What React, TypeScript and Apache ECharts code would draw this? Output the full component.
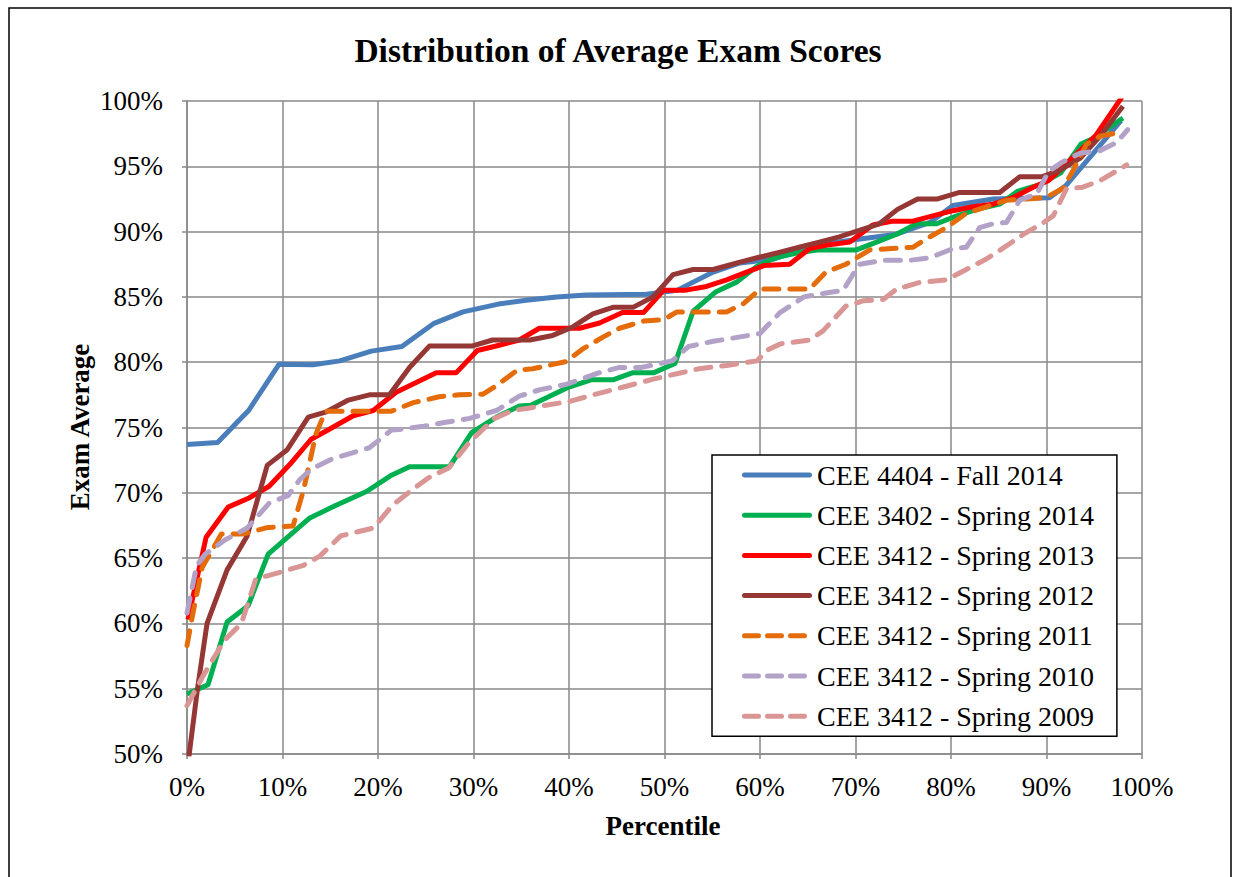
import React, { useEffect, useRef } from "react";
import * as echarts from "echarts";

const TITLE = "Distribution of Average Exam Scores";
const X_NAME = "Percentile";
const Y_NAME = "Exam Average";

const SERIES_NAMES = [
  "CEE 4404 - Fall 2014",
  "CEE 3402 - Spring 2014",
  "CEE 3412 - Spring 2013",
  "CEE 3412 - Spring 2012",
  "CEE 3412 - Spring 2011",
  "CEE 3412 - Spring 2010",
  "CEE 3412 - Spring 2009",
];

// [percentile %, exam average %]
const fall2014 = [
  [0, 73.7], [3.2, 73.85], [6.45, 76.3], [9.65, 79.85], [13.2, 79.8], [16.0, 80.1],
  [19.3, 80.85], [22.5, 81.2], [25.8, 82.95], [28.9, 83.85], [32.6, 84.45], [35.5, 84.75],
  [38.7, 85.0], [41.8, 85.15], [48.1, 85.2], [51.3, 85.5], [55.1, 86.9], [57.9, 87.6],
  [61.5, 87.9], [65.2, 88.9], [70.1, 89.4], [74.3, 89.8], [77.8, 90.7], [80.2, 92.0],
  [84.4, 92.5], [90.3, 92.6], [92.0, 93.5], [97.8, 98.5],
];

const spring2014 = [
  [0, 54.6], [2.2, 55.3], [4.2, 60.1], [6.4, 61.35], [8.5, 65.3], [12.8, 68.05],
  [15.5, 69.0], [18.8, 70.1], [21.3, 71.3], [23.3, 72.0], [27.5, 72.0], [29.8, 74.6],
  [32.4, 75.8], [34.8, 76.65], [36.0, 76.7], [40.0, 78.1], [42.3, 78.65], [44.6, 78.65],
  [46.7, 79.2], [48.9, 79.2], [51.1, 79.9], [53.0, 83.9], [55.4, 85.4], [57.6, 86.15],
  [59.6, 87.3], [61.6, 88.0], [64.1, 88.4], [66.2, 88.6], [70.1, 88.6], [72.2, 89.2],
  [74.3, 89.8], [76.4, 90.6], [78.5, 90.6], [80.6, 91.2], [82.7, 91.7], [85.1, 92.1],
  [87.0, 93.1], [89.3, 93.6], [91.5, 94.5], [93.6, 96.7], [95.1, 97.2], [98.0, 98.7],
];

const spring2013 = [
  [0.1, 60.3], [2.0, 66.6], [4.3, 68.9], [6.5, 69.6], [8.6, 70.5], [10.8, 72.2],
  [13.0, 74.1], [15.0, 74.9], [17.4, 75.9], [19.5, 76.3], [21.9, 77.7], [26.1, 79.2],
  [28.2, 79.2], [30.4, 80.9], [32.7, 81.3], [34.8, 81.7], [36.9, 82.6], [41.1, 82.6],
  [43.2, 83.0], [45.6, 83.8], [47.8, 83.8], [49.9, 85.5], [52.1, 85.5], [54.4, 85.8],
  [56.5, 86.3], [58.6, 86.9], [60.4, 87.4], [63.1, 87.5], [65.2, 88.7], [67.3, 89.0],
  [69.4, 89.2], [71.8, 90.5], [73.9, 90.8], [76.0, 90.8], [78.1, 91.2], [80.2, 91.6],
  [82.3, 91.9], [84.4, 92.1], [86.5, 92.6], [88.6, 93.4], [90.2, 93.9], [92.1, 95.2],
  [95.2, 97.4], [97.9, 100.3],
];

const spring2012 = [
  [0.2, 49.8], [1.1, 55.0], [2.1, 60.0], [4.2, 64.1], [6.3, 66.7], [8.4, 72.1],
  [10.5, 73.3], [12.7, 75.8], [14.6, 76.2], [16.9, 77.1], [19.1, 77.5], [21.2, 77.5],
  [23.3, 79.6], [25.4, 81.25], [27.8, 81.25], [29.9, 81.25], [32.0, 81.7], [35.9, 81.7],
  [38.3, 82.05], [40.4, 82.7], [42.5, 83.7], [44.6, 84.2], [46.7, 84.2], [48.8, 85.0],
  [50.9, 86.7], [53.0, 87.1], [55.1, 87.1], [57.6, 87.6], [59.7, 88.0], [62.0, 88.4],
  [64.1, 88.8], [66.2, 89.2], [68.3, 89.6], [70.4, 90.1], [72.5, 90.6], [74.4, 91.7],
  [76.5, 92.5], [78.6, 92.5], [80.9, 93.0], [85.1, 93.0], [87.2, 94.2], [89.5, 94.2],
  [91.4, 94.7], [93.5, 95.6], [95.6, 97.3], [98.0, 99.6],
];

const spring2011 = [
  [0, 58.3], [0.6, 60.7], [1.6, 64.3], [3.6, 66.85], [5.9, 66.85], [8.5, 67.35],
  [11.1, 67.45], [12.2, 70.2], [13.5, 74.5], [14.5, 76.25], [21.4, 76.25], [23.7, 76.9],
  [26.4, 77.35], [28.5, 77.5], [31.0, 77.55], [32.2, 78.1], [34.6, 79.4], [36.2, 79.5],
  [39.7, 80.05], [41.4, 81.0], [43.5, 81.9], [45.3, 82.6], [47.8, 83.15], [49.9, 83.25],
  [51.3, 83.85], [56.5, 83.85], [58.3, 84.5], [60.0, 85.6], [65.2, 85.6], [66.9, 86.9],
  [69.0, 87.5], [71.5, 88.6], [76.0, 88.8], [77.8, 89.6], [79.5, 90.3], [81.6, 91.4],
  [83.7, 91.9], [85.8, 92.4], [87.9, 92.5], [89.9, 92.6], [91.7, 93.3], [92.8, 94.7],
  [94.2, 96.7], [95.6, 97.3], [97.0, 97.5], [98.0, 97.5],
];

const spring2010 = [
  [0, 60.8], [1.0, 64.4], [1.9, 65.3], [4.0, 66.4], [6.3, 67.3], [8.6, 69.2],
  [10.6, 69.8], [11.8, 71.0], [13.0, 71.8], [15.2, 72.6], [19.1, 73.45], [21.4, 74.8],
  [22.3, 74.85], [24.8, 75.1], [27.1, 75.4], [29.6, 75.7], [32.4, 76.3], [34.8, 77.4],
  [37.0, 77.9], [39.7, 78.3], [43.2, 79.2], [45.3, 79.6], [47.6, 79.6], [50.8, 80.1],
  [52.5, 81.2], [55.1, 81.6], [57.6, 81.9], [60.0, 82.2], [62.1, 83.8], [64.6, 85.0],
  [66.9, 85.3], [68.7, 85.5], [70.4, 87.5], [72.9, 87.8], [75.7, 87.8], [77.8, 88.0],
  [80.2, 88.7], [81.6, 88.8], [83.0, 90.3], [84.4, 90.6], [85.8, 90.7], [87.2, 92.4],
  [89.0, 92.9], [90.2, 94.6], [91.6, 95.3], [93.5, 96.0], [95.6, 96.2], [97.3, 96.8],
  [98.5, 97.8],
];

const spring2009 = [
  [0, 53.7], [1.7, 56.0], [3.9, 58.7], [5.7, 60.0], [7.2, 63.4], [9.9, 63.95],
  [12.2, 64.45], [13.9, 65.15], [16.1, 66.7], [19.5, 67.3], [21.6, 69.1], [23.7, 70.3],
  [25.4, 71.2], [27.4, 71.9], [29.6, 73.9], [32.2, 75.7], [34.1, 76.3], [35.9, 76.5],
  [40.1, 77.0], [42.5, 77.5], [45.7, 78.1], [48.8, 78.7], [51.5, 79.15], [53.6, 79.5],
  [56.5, 79.75], [59.7, 80.1], [60.7, 80.9], [62.1, 81.4], [65.2, 81.7], [66.6, 82.4],
  [69.0, 84.3], [70.8, 84.7], [72.9, 84.8], [74.3, 85.6], [76.7, 86.1], [79.5, 86.3],
  [81.6, 87.1], [83.7, 87.9], [85.8, 88.9], [87.6, 89.8], [89.7, 90.7], [90.7, 91.2],
  [92.1, 93.3], [93.8, 93.4], [95.6, 93.9], [98.4, 95.1],
];

const SERIES_DATA = [fall2014, spring2014, spring2013, spring2012, spring2011, spring2010, spring2009];
const SERIES_COLORS = ["#4A7EBB", "#00B050", "#FF0000", "#953735", "#E46C0A", "#B3A2C7", "#D99694"];
const SERIES_DASHED = [false, false, false, false, true, true, true];

const FONT = '"Liberation Serif", "Times New Roman", serif';
const GRID_COLOR = "#898989";

const SOLID_ICON = "path://M2.5,0H67.5A2.5,2.5 0 0 1 67.5,5H2.5A2.5,2.5 0 0 1 2.5,0Z";
const DASH_ICON =
  "path://M2.5,0H16.5A2.5,2.5 0 0 1 16.5,5H2.5A2.5,2.5 0 0 1 2.5,0Z" +
  "M25.5,0H39.5A2.5,2.5 0 0 1 39.5,5H25.5A2.5,2.5 0 0 1 25.5,0Z" +
  "M48.5,0H62.5A2.5,2.5 0 0 1 62.5,5H48.5A2.5,2.5 0 0 1 48.5,0Z" +
  "M69.9,2.4H70V2.6H69.9Z";

export default function App() {
  const ref = useRef<HTMLDivElement>(null);

  useEffect(() => {
    if (!ref.current) return;
    const chart = echarts.init(ref.current, null, { renderer: "svg" });

    const series = SERIES_NAMES.map((name, i) => ({
      name,
      type: "line",
      data: SERIES_DATA[i],
      showSymbol: false,
      symbol: "none",
      clip: true,
      lineStyle: {
        color: SERIES_COLORS[i],
        width: 5,
        type: SERIES_DASHED[i] ? [15, 11] : "solid",
        cap: SERIES_DASHED[i] ? "round" : "butt",
        join: "round",
      },
      itemStyle: { color: SERIES_COLORS[i] },
    }));

    const axisCommon = {
      axisLine: { show: true, lineStyle: { color: GRID_COLOR, width: 1.5 } },
      axisTick: { show: true, length: 5, lineStyle: { color: GRID_COLOR, width: 1.5 } },
      splitLine: { show: true, lineStyle: { color: GRID_COLOR, width: 1.5 } },
    };

    chart.setOption({
      animation: false,
      backgroundColor: "#ffffff",
      title: {
        text: TITLE,
        left: 613,
        top: 28,
        textAlign: "center",
        textStyle: { fontFamily: FONT, fontSize: 33.5, fontWeight: "bold", color: "#000" },
      },
      grid: { left: 187, top: 101, width: 955, height: 653 },
      xAxis: {
        type: "value",
        min: 0,
        max: 100,
        interval: 10,
        ...axisCommon,
        axisLabel: { formatter: "{value}%", fontFamily: FONT, fontSize: 27, color: "#000", margin: 19 },
      },
      yAxis: {
        type: "value",
        min: 50,
        max: 100,
        interval: 5,
        ...axisCommon,
        axisLabel: { formatter: "{value}%", fontFamily: FONT, fontSize: 27, color: "#000", margin: 24 },
      },
      legend: {
        data: SERIES_NAMES.map((name, i) => ({
          name,
          icon: SERIES_DASHED[i] ? DASH_ICON : SOLID_ICON,
          itemStyle: { color: SERIES_COLORS[i] },
        })),
        orient: "vertical",
        left: 712,
        top: 455,
        itemWidth: 70,
        itemHeight: 5,
        itemGap: 12.2,
        symbolKeepAspect: true,
        padding: [6, 23, 6, 30],
        backgroundColor: "#fff",
        borderColor: "#000",
        borderWidth: 1.5,
        textStyle: { fontFamily: FONT, fontSize: 28, color: "#000", lineHeight: 28 },
      },
      graphic: [
        {
          type: "rect",
          z: -10,
          shape: { x: 9, y: 8, width: 1222, height: 900 },
          style: { fill: "none", stroke: "#000", lineWidth: 1.5 },
        },
        {
          type: "text",
          x: 663,
          y: 826,
          style: {
            text: X_NAME,
            font: 'bold 27px "Liberation Serif", "Times New Roman", serif',
            align: "center",
            verticalAlign: "middle",
            fill: "#000",
          },
        },
        {
          type: "text",
          x: 80,
          y: 427,
          rotation: Math.PI / 2,
          style: {
            text: Y_NAME,
            font: 'bold 27px "Liberation Serif", "Times New Roman", serif',
            align: "center",
            verticalAlign: "middle",
            fill: "#000",
          },
        },
      ],
      series,
    });

    return () => chart.dispose();
  }, []);

  return (
    <div
      ref={ref}
      style={{ position: "absolute", left: 0, top: 0, width: 1235, height: 877, background: "#fff" }}
    />
  );
}
